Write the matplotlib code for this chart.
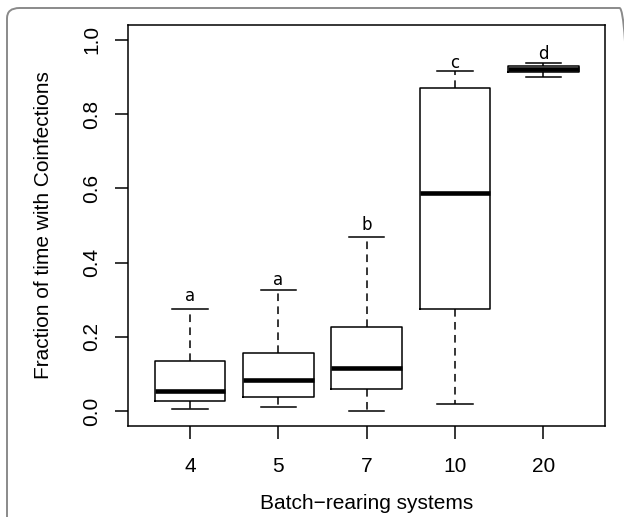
import matplotlib
matplotlib.use('Agg')
import matplotlib.pyplot as plt
from matplotlib.patches import FancyBboxPatch

groups = ['4', '5', '7', '10', '20']
whisk_low = [0.005, 0.011, 0.001, 0.019, 0.899]
q1 = [0.027, 0.038, 0.060, 0.276, 0.914]
med = [0.054, 0.084, 0.116, 0.588, 0.921]
q3 = [0.136, 0.157, 0.227, 0.869, 0.929]
whisk_high = [0.274, 0.325, 0.470, 0.916, 0.937]
letters = ['a', 'a', 'b', 'c', 'd']
letter_y = [0.296, 0.341, 0.487, 0.925, 0.949]
yticks = [0.0, 0.2, 0.4, 0.6, 0.8, 1.0]
ytick_labels = ['0.0', '0.2', '0.4', '0.6', '0.8', '1.0']

W, H = 624, 517
fig = plt.figure(figsize=(W / 100, H / 100), dpi=100)
plt.rcParams['font.family'] = ['Liberation Sans', 'DejaVu Sans']

# outer rounded frame
frame = FancyBboxPatch((7 / W, 1 - 530 / H), (632 - 7) / W, (530 - 8) / H,
                       boxstyle="round,pad=0,rounding_size=0.02",
                       transform=fig.transFigure, fill=False,
                       edgecolor='#8a8a8a', linewidth=1.4, clip_on=False)
fig.patches.append(frame)

ax = fig.add_axes([128.3 / W, 1 - 426 / H, (605 - 128.3) / W, (426 - 25) / H])

positions = list(range(1, len(groups) + 1))
stats = [dict(whislo=a, q1=b, med=c, q3=d, whishi=e, label=g)
         for a, b, c, d, e, g in zip(whisk_low, q1, med, q3, whisk_high, groups)]
ax.bxp(stats, positions=positions, widths=0.8, capwidths=0.4, showfliers=False,
       boxprops=dict(color='black', linewidth=1.1),
       whiskerprops=dict(color='black', linewidth=1.1, linestyle=(0, (5, 3.5))),
       capprops=dict(color='black', linewidth=1.1),
       medianprops=dict(color='black', linewidth=3.3, solid_capstyle='butt'))

for p, l, y in zip(positions, letters, letter_y):
    ax.text(p, y, l, ha='center', va='baseline', fontsize=12,
            family='DejaVu Sans', color='black')

ax.set_xlim(0.3, 5.7)
ax.set_ylim(-0.04, 1.04)
ax.set_yticks(yticks)
ax.set_yticklabels(ytick_labels, rotation=90, va='center')
ax.set_xticks(positions)
ax.set_xticklabels(groups)
ax.tick_params(axis='both', direction='out', length=9.5, width=1.1, labelsize=15)
ax.tick_params(axis='x', pad=13)
ax.tick_params(axis='y', pad=10)
for s in ax.spines.values():
    s.set_linewidth(1.1)

ax.set_xlabel('Batch\u2212rearing systems', fontsize=15, labelpad=13)
ax.set_ylabel('Fraction of time with Coinfections', fontsize=15, labelpad=21)

fig.savefig('out.png', dpi=100)
